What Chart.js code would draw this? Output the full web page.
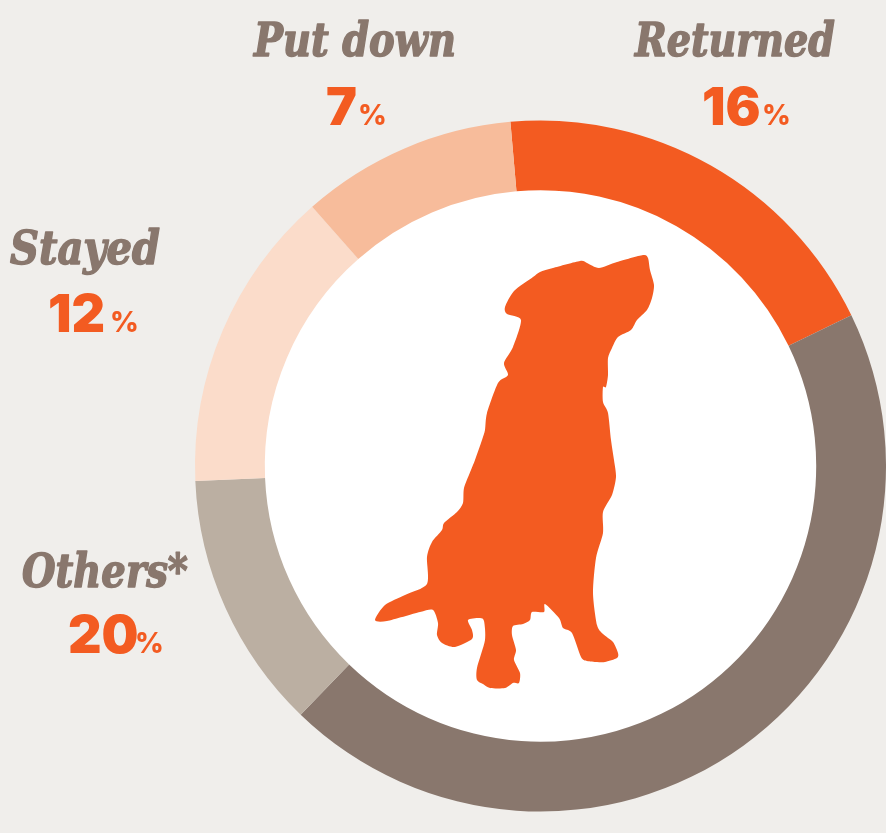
<!DOCTYPE html>
<html>
<head>
<meta charset="utf-8">
<script src="https://cdn.jsdelivr.net/npm/chart.js@4"></script>
<style>
  html, body { margin: 0; padding: 0; background: #F0EEEB; }
  canvas { display: block; }
</style>
</head>
<body>
<canvas id="chart" width="886" height="833"></canvas>
<script>
// Data (arc shares don't follow the printed percents in the original)
const categories = ['Returned', '', 'Others*', 'Stayed', 'Put down'];
const arcShares = [19.2, 44.4, 12.1, 14.2, 10.1];
const printedPercents = [16, null, 20, 12, 7];

const sliceColors = ['#F35B21', '#89776D', '#BBAFA2', '#FBDCCA', '#F7BC9B'];
const brown = '#89776D';
const orange = '#F35B21';
const startAngle = -5;

// Where each label goes: name left/baseline/width, number left/baseline, percent left
const labelSpots = {
  'Returned': { x: 635, y: 56, w: 200, nx: 702, ny: 125, px: 762 },
  'Others*': { x: 22, y: 587, w: 166, nx: 68, ny: 653, px: 135 },
  'Stayed': { x: 10, y: 264, w: 150, nx: 48, ny: 332, px: 110 },
  'Put down': { x: 254, y: 56, w: 202, nx: 326, ny: 125, px: 358 }
};

// Dog silhouette outline
const dogOutline = [
  [540,272],[553,268],[580,261],[587,263],[599,268],[617,262],[643,255],[648,258],[650,270],[654,285],
  [652,298],[647,310],[637,320],[631,330],[618,337],[612,348],[608,358],[608,375],[606,387],[603,387],
  [603,402],[608,413],[611,440],[614,460],[616,477],[612,495],[603,512],[603,533],[596,558],[593,593],
  [597,625],[603,634],[613,642],[618,653],[617,658],[605,662],[597,662],[587,661],[581,657],[572,633],
  [563,628],[559,618],[545,604],[544,612],[532,612],[530,620],[523,624],[513,626],[512,635],[516,650],
  [514,660],[520,673],[519,683],[513,683],[505,688],[490,688],[483,684],[477,680],[477,668],[485,640],
  [484,621],[480,618],[468,620],[472,630],[472,639],[455,647],[442,643],[437,635],[438,623],[433,610],
  [420,612],[387,621],[375,620],[385,605],[405,595],[427,584],[427,557],[432,542],[442,530],[444,523],
  [457,512],[463,503],[464,488],[471,470],[475,460],[482,440],[485,430],[487,413],[498,383],[508,375],
  [504,363],[513,347],[521,320],[507,314],[505,307],[514,291],[533,277]
];

// Closed Catmull-Rom curve through the traced points
function drawDog(ctx) {
  const n = dogOutline.length;
  const at = i => dogOutline[(i + n) % n];
  ctx.beginPath();
  ctx.moveTo(at(0)[0], at(0)[1]);
  for (let i = 0; i < n; i++) {
    const p0 = at(i - 1), p1 = at(i), p2 = at(i + 1), p3 = at(i + 2);
    ctx.bezierCurveTo(
      p1[0] + (p2[0] - p0[0]) / 8, p1[1] + (p2[1] - p0[1]) / 8,
      p2[0] - (p3[0] - p1[0]) / 8, p2[1] - (p3[1] - p1[1]) / 8,
      p2[0], p2[1]
    );
  }
  ctx.closePath();
  ctx.fillStyle = orange;
  ctx.fill();
}

function drawLabels(ctx) {
  ctx.textAlign = 'left';
  ctx.textBaseline = 'alphabetic';
  ctx.lineJoin = 'round';
  categories.forEach((name, i) => {
    if (printedPercents[i] === null) return;
    const s = labelSpots[name];
    ctx.fillStyle = brown;
    ctx.strokeStyle = brown;
    ctx.lineWidth = 1.4;
    ctx.font = 'italic bold 46px "DejaVu Serif Condensed", "DejaVu Serif"';
    ctx.fillText(name, s.x, s.y, s.w);
    ctx.strokeText(name, s.x, s.y, s.w);
    ctx.fillStyle = orange;
    ctx.font = '900 52px Inter';
    ctx.fillText(String(printedPercents[i]), s.nx, s.ny);
    ctx.font = '800 28px Inter';
    ctx.fillText('%', s.px, s.ny);
  });
}

const dogPlugin = {
  id: 'dogPlugin',
  beforeDraw(chart) {
    const ctx = chart.ctx;
    ctx.save();
    ctx.fillStyle = '#F0EEEB';
    ctx.fillRect(0, 0, chart.width, chart.height);
    const arc = chart.getDatasetMeta(0).data[0];
    ctx.fillStyle = '#FFFFFF';
    ctx.beginPath();
    ctx.arc(arc.x, arc.y, arc.innerRadius + 1, 0, Math.PI * 2);
    ctx.fill();
    ctx.restore();
  },
  afterDraw(chart) {
    const ctx = chart.ctx;
    ctx.save();
    drawDog(ctx);
    drawLabels(ctx);
    ctx.restore();
  }
};

new Chart(document.getElementById('chart'), {
  type: 'doughnut',
  data: {
    labels: categories,
    datasets: [{
      data: arcShares,
      backgroundColor: sliceColors,
      borderWidth: 0
    }]
  },
  options: {
    responsive: false,
    animation: false,
    cutout: '79.8%',
    rotation: startAngle,
    layout: { padding: { left: 195, right: -1, top: 120, bottom: 21 } },
    plugins: { legend: { display: false }, tooltip: { enabled: false } }
  },
  plugins: [dogPlugin]
});
</script>
</body>
</html>
